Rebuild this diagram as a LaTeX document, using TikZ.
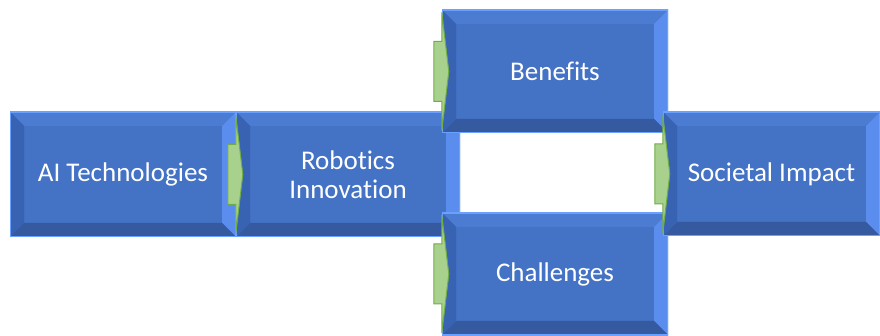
\documentclass[tikz,border=0pt]{standalone}
\usepackage{fontspec}
\setmainfont{Carlito}[Ligatures=CommonOff]
\definecolor{face}{HTML}{4472C4}
\definecolor{bevtop}{HTML}{4C7CD2}
\definecolor{bevleft}{HTML}{3862B2}
\definecolor{bevright}{HTML}{5A8DEE}
\definecolor{bevbot}{HTML}{365AA0}
\definecolor{rim}{HTML}{6AA0FF}
\definecolor{arrowfill}{HTML}{A9D18E}
\definecolor{arrowline}{HTML}{70AD47}
\tikzset{
  bevbox/.style 2 args={minimum width=#1, minimum height=#2, inner sep=0pt,
    text=white, align=center, font=\fontsize{27}{28.5}\selectfont,
    path picture={
      \def\d{14}
      \coordinate (pNW) at (path picture bounding box.north west);
      \coordinate (pNE) at (path picture bounding box.north east);
      \coordinate (pSW) at (path picture bounding box.south west);
      \coordinate (pSE) at (path picture bounding box.south east);
      \fill[face] (pNW) rectangle (pSE);
      \fill[bevtop] (pNW) -- (pNE) -- ([shift={(-\d,\d)}]pNE) -- ([shift={(\d,\d)}]pNW) -- cycle;
      \fill[bevleft] (pNW) -- ([shift={(\d,\d)}]pNW) -- ([shift={(\d,-\d)}]pSW) -- (pSW) -- cycle;
      \fill[bevright] (pNE) -- ([shift={(-\d,\d)}]pNE) -- ([shift={(-\d,-\d)}]pSE) -- (pSE) -- cycle;
      \fill[bevbot] (pSW) -- ([shift={(\d,-\d)}]pSW) -- ([shift={(-\d,-\d)}]pSE) -- (pSE) -- cycle;
      \draw[rim, line width=2pt] (pNW) rectangle (pSE);
    }},
  greenarrow/.style={fill=arrowfill, draw=arrowline, line width=1pt, line join=miter}
}
\newcommand{\flowarrow}[1]{%
  \path[greenarrow] ([shift={(-8,-30)}]#1) -- ([shift={(0,-30)}]#1) -- ([shift={(0,-59)}]#1)
    -- ([shift={(7,0)}]#1) -- ([shift={(0,59)}]#1) -- ([shift={(0,30)}]#1)
    -- ([shift={(-8,30)}]#1) -- cycle;}
\begin{document}
\begin{tikzpicture}[x=1pt, y=-1pt]
\useasboundingbox (0,0) rectangle (880,336);
\node[bevbox={226pt}{125pt}] (ai) at (123,174.5) {AI Technologies};
\node[bevbox={224pt}{125pt}] (rob) at (348,174.5) {Robotics\\Innovation};
\node[bevbox={226pt}{123pt}] (ben) at (555,71.5) {Benefits};
\node[bevbox={226pt}{122pt}] (cha) at (555,274) {Challenges};
\node[bevbox={217pt}{124pt}] (soc) at (771.5,174) {Societal Impact};
\flowarrow{rob.west}
\flowarrow{ben.west}
\flowarrow{cha.west}
\flowarrow{soc.west}
\end{tikzpicture}
\end{document}
